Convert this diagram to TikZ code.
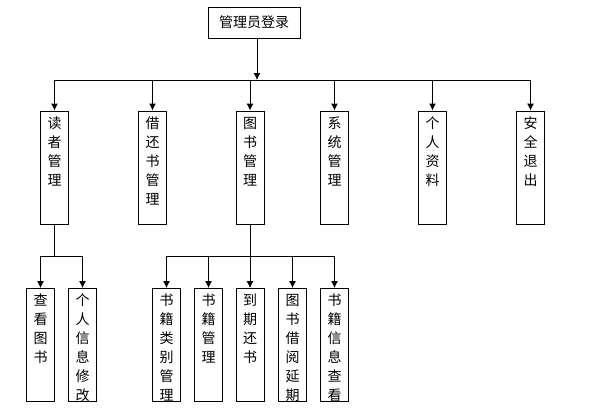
\documentclass[tikz,border=0pt]{standalone}
\usepackage{fontspec}
\setmainfont{Noto Sans CJK SC}
\usepackage{tikz}
\usetikzlibrary{positioning,arrows.meta}
\newcommand{\vtxt}[1]{\parbox[c][113pt][t]{28pt}{\centering\fontsize{14pt}{19pt}\selectfont\rule{0pt}{17pt}#1}}

\begin{document}
\begin{tikzpicture}[x=1pt,y=-1pt]
    %styles
    \tikzstyle{module}=[rectangle,draw,line width=0.9pt,inner sep=0pt,minimum width=28pt,minimum height=113pt]
    \tikzstyle{top}=[rectangle,draw,line width=0.9pt,minimum width=92pt,minimum height=31pt,font=\fontsize{14pt}{16pt}\selectfont]
    \tikzstyle{commu}=[-{Latex[length=7pt,width=7pt]},line width=0.9pt]
    \tikzstyle{bus}=[line width=0.9pt]
    \useasboundingbox (0,0) rectangle (599,412);
    %nodes
    \node[top] (login) at (254,22.5) {管理员登录};
    \node[module] (reader) at (54.5,167.5) {\vtxt{读\\者\\管\\理}};
    \node[module] (borrow) at (152.5,167.5) {\vtxt{借\\还\\书\\管\\理}};
    \node[module] (book) at (250,167.5) {\vtxt{图\\书\\管\\理}};
    \node[module] (sys) at (334.5,167.5) {\vtxt{系\\统\\管\\理}};
    \node[module] (info) at (432.5,167.5) {\vtxt{个\\人\\资\\料}};
    \node[module] (quit) at (530.5,167.5) {\vtxt{安\\全\\退\\出}};
    \node[module] (look) at (40.5,345) {\vtxt{查\\看\\图\\书}};
    \node[module] (edit) at (82.5,345) {\vtxt{个\\人\\信\\息\\修\\改}};
    \node[module] (kind) at (166.5,345) {\vtxt{书\\籍\\类\\别\\管\\理}};
    \node[module] (bkmgr) at (208.5,345) {\vtxt{书\\籍\\管\\理}};
    \node[module] (due) at (250,345) {\vtxt{到\\期\\还\\书}};
    \node[module] (renew) at (292.5,345) {\vtxt{图\\书\\借\\阅\\延\\期}};
    \node[module] (query) at (334.5,345) {\vtxt{书\\籍\\信\\息\\查\\看}};
    \coordinate (mainbus) at (257,80);
    \coordinate (rbus) at (54.5,256);
    \coordinate (bbus) at (250,256);

    %arraws
    \draw[commu] (login.south -| mainbus)--(mainbus);
    \draw[bus] (reader.north |- mainbus)--(quit.north |- mainbus);
    \draw[commu] (reader.north |- mainbus)--(reader);
    \draw[commu] (borrow.north |- mainbus)--(borrow);
    \draw[commu] (book.north |- mainbus)--(book);
    \draw[commu] (sys.north |- mainbus)--(sys);
    \draw[commu] (info.north |- mainbus)--(info);
    \draw[commu] (quit.north |- mainbus)--(quit);
    \draw[bus] (reader.south)--(rbus);
    \draw[bus] (look.north |- rbus)--(edit.north |- rbus);
    \draw[commu] (look.north |- rbus)--(look);
    \draw[commu] (edit.north |- rbus)--(edit);
    \draw[bus] (book.south)--(bbus);
    \draw[bus] (kind.north |- bbus)--(query.north |- bbus);
    \draw[commu] (kind.north |- bbus)--(kind);
    \draw[commu] (bkmgr.north |- bbus)--(bkmgr);
    \draw[commu] (due.north |- bbus)--(due);
    \draw[commu] (renew.north |- bbus)--(renew);
    \draw[commu] (query.north |- bbus)--(query);
\end{tikzpicture}
\end{document}
